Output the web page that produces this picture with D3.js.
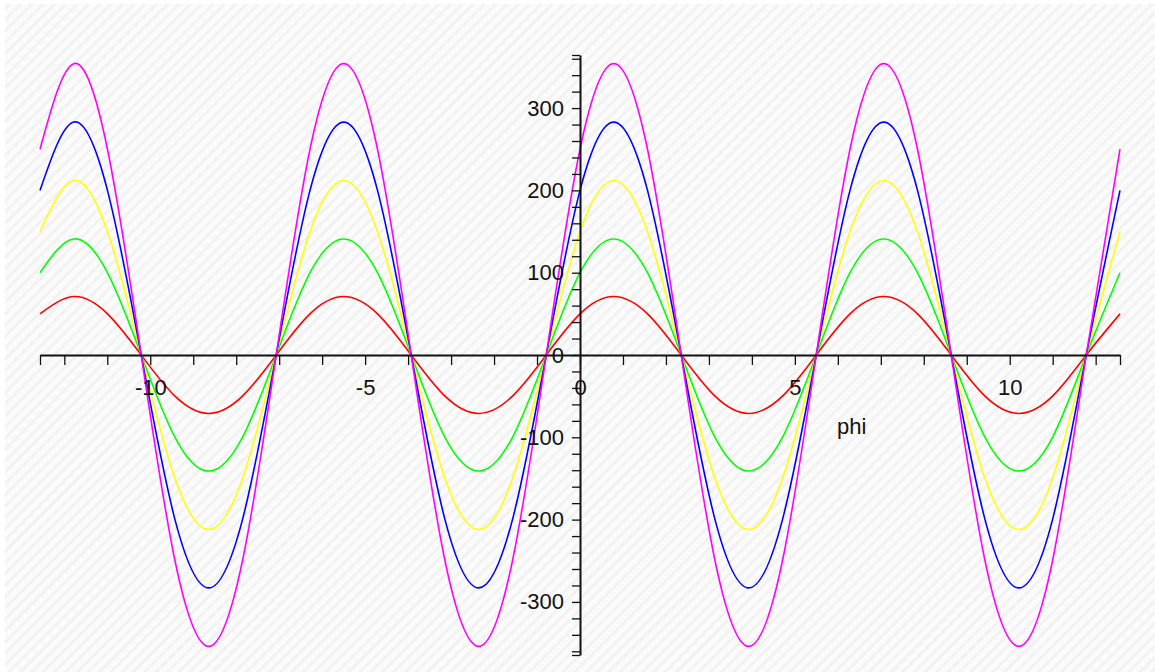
<!DOCTYPE html>
<html>
<head>
<meta charset="utf-8">
<script src="https://cdn.jsdelivr.net/npm/d3@7"></script>
<style>
  html, body { margin: 0; padding: 0; background: #fff; }
  svg { display: block; }
  .axis text { font-family: "Liberation Sans", Arial, sans-serif; font-size: 22px; fill: #111; }
</style>
</head>
<body>
<svg id="chart"></svg>
<script>
// phi sample positions (multiples of pi/4, -4pi .. 4pi)
const phi = [-12.566, -11.781, -10.996, -10.210, -9.425, -8.639, -7.854, -7.069,
  -6.283, -5.498, -4.712, -3.927, -3.142, -2.356, -1.571, -0.785,
  0, 0.785, 1.571, 2.356, 3.142, 3.927, 4.712, 5.498,
  6.283, 7.069, 7.854, 8.639, 9.425, 10.210, 10.996, 11.781, 12.566];

// curve values at those positions
const red = [50, 71, 50, 0, -50, -71, -50, 0, 50, 71, 50, 0, -50, -71, -50, 0,
  50, 71, 50, 0, -50, -71, -50, 0, 50, 71, 50, 0, -50, -71, -50, 0, 50];
const green = [100, 141, 100, 0, -100, -141, -100, 0, 100, 141, 100, 0, -100, -141, -100, 0,
  100, 141, 100, 0, -100, -141, -100, 0, 100, 141, 100, 0, -100, -141, -100, 0, 100];
const yellow = [150, 212, 150, 0, -150, -212, -150, 0, 150, 212, 150, 0, -150, -212, -150, 0,
  150, 212, 150, 0, -150, -212, -150, 0, 150, 212, 150, 0, -150, -212, -150, 0, 150];
const blue = [200, 283, 200, 0, -200, -283, -200, 0, 200, 283, 200, 0, -200, -283, -200, 0,
  200, 283, 200, 0, -200, -283, -200, 0, 200, 283, 200, 0, -200, -283, -200, 0, 200];
const magenta = [250, 354, 250, 0, -250, -354, -250, 0, 250, 354, 250, 0, -250, -354, -250, 0,
  250, 354, 250, 0, -250, -354, -250, 0, 250, 354, 250, 0, -250, -354, -250, 0, 250];

const seriesNames = ['red', 'green', 'yellow', 'blue', 'magenta'];
const seriesValues = [red, green, yellow, blue, magenta];
const seriesColors = ['#ff0000', '#00ff00', '#ffff00', '#0000ff', '#ff00ff'];

const xDomain = [-12.566, 12.566];
const yDomain = [-364.5, 364.5];
const xTicks = [-12.566, -12, -11, -10, -9, -8, -7, -6, -5, -4, -3, -2, -1, 0,
  1, 2, 3, 4, 5, 6, 7, 8, 9, 10, 11, 12, 12.566];
const xLabelled = [-10, -5, 0, 5, 10];
const yTicks = [-364.5, -360, -340, -320, -300, -280, -260, -240, -220, -200, -180, -160, -140, -120,
  -100, -80, -60, -40, -20, 0, 20, 40, 60, 80, 100, 120, 140, 160, 180, 200, 220, 240, 260,
  280, 300, 320, 340, 360, 364.5];
const yLabelled = [-300, -200, -100, 0, 100, 200, 300];
const xAxisTitle = 'phi';

const W = 1155, H = 672;
const svg = d3.select('#chart').attr('width', W).attr('height', H);

// hatched background
const defs = svg.append('defs');
const pat = defs.append('pattern')
  .attr('id', 'hatch')
  .attr('patternUnits', 'userSpaceOnUse')
  .attr('width', 8).attr('height', 8)
  .attr('patternTransform', 'rotate(45)');
pat.append('rect').attr('width', 8).attr('height', 8).attr('fill', '#fbfbfb');
pat.append('rect').attr('width', 3).attr('height', 8).attr('fill', '#f2f2f2');

svg.append('rect').attr('width', W).attr('height', H).attr('fill', '#fff');
svg.append('rect').attr('x', 5).attr('y', 4).attr('width', W - 5).attr('height', H - 4)
  .attr('fill', 'url(#hatch)');

const x = d3.scaleLinear().domain(xDomain).range([40, 1120]);
const y = d3.scaleLinear().domain(yDomain).range([655, 55]);

// curves
const line = d3.line()
  .x((d, i) => x(phi[i]))
  .y(d => y(d))
  .curve(d3.curveNatural);

svg.append('g')
  .selectAll('path')
  .data(seriesValues)
  .enter()
  .append('path')
  .attr('class', (d, i) => 'curve ' + seriesNames[i])
  .attr('d', line)
  .attr('fill', 'none')
  .attr('stroke', (d, i) => seriesColors[i])
  .attr('stroke-width', 1.6);

// x axis
const xAxis = svg.append('g')
  .attr('class', 'axis')
  .attr('transform', `translate(0,${y(0)})`)
  .call(d3.axisBottom(x)
    .tickValues(xTicks)
    .tickSize(10)
    .tickSizeOuter(0)
    .tickFormat(d => xLabelled.includes(d) ? String(d) : ''));
xAxis.select('.domain').attr('stroke', '#111').attr('stroke-width', 2);
xAxis.selectAll('.tick line').attr('stroke', '#111').attr('stroke-width', 1.3);
xAxis.selectAll('.tick text').attr('y', 40).attr('dy', null);

// y axis
const yAxis = svg.append('g')
  .attr('class', 'axis')
  .attr('transform', `translate(${x(0)},0)`)
  .call(d3.axisLeft(y)
    .tickValues(yTicks)
    .tickSize(8)
    .tickSizeOuter(0)
    .tickPadding(8)
    .tickFormat(d => yLabelled.includes(d) ? String(d) : ''));
yAxis.select('.domain').attr('stroke', '#111').attr('stroke-width', 2);
yAxis.selectAll('.tick line').attr('stroke', '#111').attr('stroke-width', 1.3);

// axis title
svg.append('text')
  .attr('class', 'axis')
  .attr('x', 837)
  .attr('y', 434)
  .style('font-family', '"Liberation Sans", Arial, sans-serif')
  .style('font-size', '22px')
  .attr('fill', '#111')
  .text(xAxisTitle);
</script>
</body>
</html>
